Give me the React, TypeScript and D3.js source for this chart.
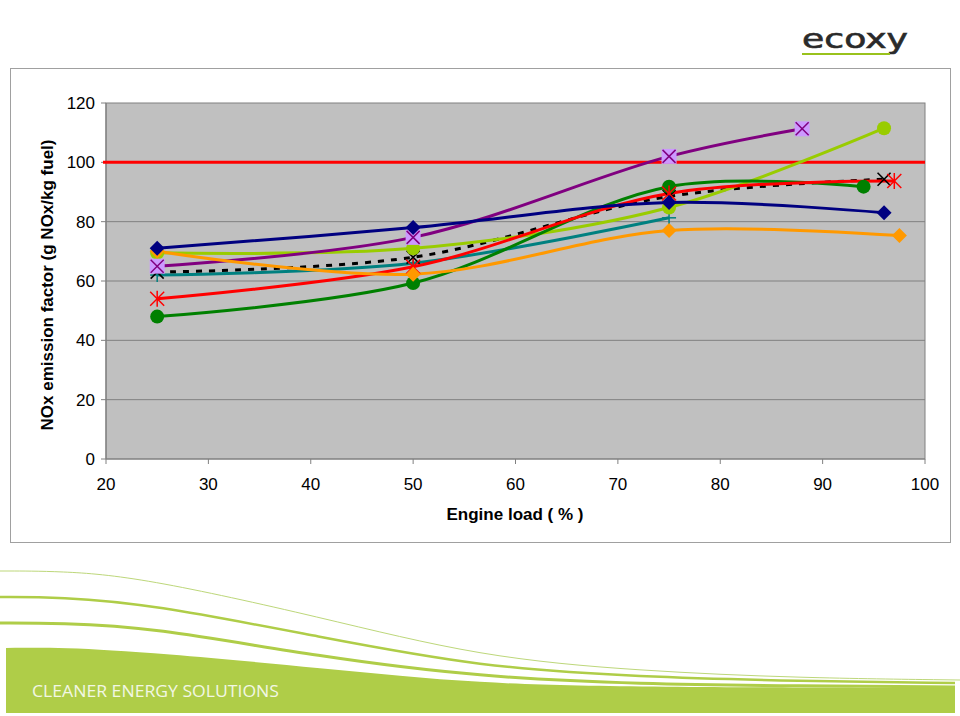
import React from "react";
import * as d3 from "d3";

const xTicks = [20, 30, 40, 50, 60, 70, 80, 90, 100];
const yTicks = [0, 20, 40, 60, 80, 100, 120];

const navyX = [25, 50, 75, 96];
const navyY = [71, 78, 86.5, 83];
const purpleX = [25, 50, 75, 88];
const purpleY = [65, 74.7, 102, 111.3];
const limeX = [25, 50, 75, 96];
const limeY = [69.5, 71, 84.8, 111.5];
const orangeX = [25, 50, 75, 97.5];
const orangeY = [70, 62.3, 77, 75.3];
const redX = [25, 50, 75, 97];
const redY = [54, 64.8, 89.5, 93.7];
const greenX = [25, 50, 75, 94];
const greenY = [48, 59.3, 91.8, 91.8];
const blackX = [25, 50, 75, 96];
const blackY = [63, 68, 88.5, 94.3];
const tealX = [25, 50, 75];
const tealY = [62, 66, 81.3];
const limitValue = 100;

type Series = { xs: number[]; ys: number[]; color: string; marker: string; dash?: string };

const series: Series[] = [
  { xs: tealX, ys: tealY, color: "#008080", marker: "plus" },
  { xs: blackX, ys: blackY, color: "#000000", marker: "x", dash: "6,7" },
  { xs: limeX, ys: limeY, color: "#99CC00", marker: "circle" },
  { xs: greenX, ys: greenY, color: "#008000", marker: "circle" },
  { xs: redX, ys: redY, color: "#FF0000", marker: "star" },
  { xs: purpleX, ys: purpleY, color: "#800080", marker: "squarex" },
  { xs: orangeX, ys: orangeY, color: "#FF9900", marker: "diamond" },
  { xs: navyX, ys: navyY, color: "#000080", marker: "diamond" },
];

// decorative footer swoosh guide points (page coordinates)
const swooshThin: [number, number][] = [[0, 571], [60, 571], [140, 577], [320, 617], [480, 657], [640, 671], [800, 678], [960, 680]];
const swooshMid: [number, number][] = [[0, 597], [60, 597], [150, 604], [320, 637], [480, 667], [640, 677], [800, 681], [955, 683]];
const swooshLow: [number, number][] = [[0, 623], [60, 623], [150, 627], [320, 657], [480, 677], [640, 684], [800, 686], [955, 687]];
const swooshFill: [number, number][] = [[6, 648], [60, 647], [160, 653], [320, 668], [480, 684], [640, 687], [955, 688]];

const x = d3.scaleLinear().domain([20, 100]).range([106, 925]);
const y = d3.scaleLinear().domain([0, 120]).range([459, 103]);

function Marker({ cx, cy, type, color }: { cx: number; cy: number; type: string; color: string }) {
  if (type === "diamond") {
    const s = 7.5;
    return <path d={`M${cx},${cy - s}L${cx + s},${cy}L${cx},${cy + s}L${cx - s},${cy}Z`} fill={color} />;
  }
  if (type === "circle") return <circle cx={cx} cy={cy} r={7} fill={color} />;
  if (type === "plus") {
    const s = 7;
    return (
      <g stroke={color} strokeWidth={1.5}>
        <line x1={cx} y1={cy - s} x2={cx} y2={cy + s} />
        <line x1={cx - s} y1={cy} x2={cx + s} y2={cy} />
      </g>
    );
  }
  if (type === "x") {
    const s = 6.5;
    return (
      <g stroke={color} strokeWidth={1.6}>
        <line x1={cx - s} y1={cy - s} x2={cx + s} y2={cy + s} />
        <line x1={cx - s} y1={cy + s} x2={cx + s} y2={cy - s} />
      </g>
    );
  }
  if (type === "star") {
    const s = 7;
    return (
      <g stroke={color} strokeWidth={1.5}>
        <line x1={cx - s} y1={cy - s} x2={cx + s} y2={cy + s} />
        <line x1={cx - s} y1={cy + s} x2={cx + s} y2={cy - s} />
        <line x1={cx} y1={cy - s - 1} x2={cx} y2={cy + s + 1} />
      </g>
    );
  }
  if (type === "squarex") {
    const s = 7.5;
    return (
      <g>
        <rect x={cx - s} y={cy - s} width={2 * s} height={2 * s} fill="#CC99FF" />
        <g stroke={color} strokeWidth={1.5}>
          <line x1={cx - s + 1} y1={cy - s + 1} x2={cx + s - 1} y2={cy + s - 1} />
          <line x1={cx - s + 1} y1={cy + s - 1} x2={cx + s - 1} y2={cy - s + 1} />
        </g>
      </g>
    );
  }
  return null;
}

export default function App() {
  const line = d3
    .line<[number, number]>()
    .x((d) => x(d[0]))
    .y((d) => y(d[1]))
    .curve(d3.curveCatmullRom.alpha(0.5));

  const deco = d3.line<[number, number]>().curve(d3.curveBasis);
  const fillPath = (deco(swooshFill) || "") + `L955,713L6,713Z`;

  return (
    <svg
      width={960}
      height={716}
      style={{ position: "absolute", left: 0, top: 0, background: "#fff" }}
      fontFamily="'Liberation Sans', Arial, sans-serif"
    >
      {/* logo */}
      <text x={802} y={48} fontSize={27} fill="#2a2a2a" stroke="#2a2a2a" strokeWidth={0.6}
        textLength={106} lengthAdjust="spacingAndGlyphs"
        fontFamily="'DejaVu Sans', sans-serif">ecoxy</text>
      <line x1={802} y1={54} x2={890} y2={54} stroke="#99C21C" strokeWidth={2.2} />

      {/* frame */}
      <rect x={10.5} y={68.5} width={940} height={474} fill="#fff" stroke="#A0A0A0" strokeWidth={1} />

      {/* plot area */}
      <rect x={x(20)} y={y(120)} width={x(100) - x(20)} height={y(0) - y(120)} fill="#C0C0C0" stroke="#808080" strokeWidth={1} />
      {yTicks.filter((t) => t > 0 && t < 120).map((t) => (
        <line key={t} x1={x(20)} x2={x(100)} y1={y(t)} y2={y(t)} stroke="#808080" strokeWidth={1} />
      ))}

      {/* axes */}
      <line x1={x(20)} x2={x(20)} y1={y(0)} y2={y(120)} stroke="#808080" strokeWidth={1.2} />
      <line x1={x(20)} x2={x(100)} y1={y(0)} y2={y(0)} stroke="#808080" strokeWidth={1.2} />
      {yTicks.map((t) => (
        <g key={t}>
          <line x1={x(20) - 5} x2={x(20)} y1={y(t)} y2={y(t)} stroke="#808080" />
          <text x={95} y={y(t) + 6} fontSize={17} textAnchor="end" fill="#000">{t}</text>
        </g>
      ))}
      {xTicks.map((t) => (
        <g key={t}>
          <line x1={x(t)} x2={x(t)} y1={y(0)} y2={y(0) + 5} stroke="#808080" />
          <text x={x(t)} y={490} fontSize={17} textAnchor="middle" fill="#000">{t}</text>
        </g>
      ))}

      {/* limit line */}
      <line x1={x(20) - 3} x2={x(100)} y1={y(limitValue)} y2={y(limitValue)} stroke="#FF0000" strokeWidth={3} />

      {/* series */}
      {series.map((s, i) => (
        <path
          key={i}
          d={line(s.xs.map((v, j) => [v, s.ys[j]] as [number, number])) || ""}
          fill="none"
          stroke={s.color}
          strokeWidth={3}
          strokeDasharray={s.dash}
        />
      ))}
      {series.map((s, i) =>
        s.xs.map((v, j) => (
          <Marker key={`${i}-${j}`} cx={x(v)} cy={y(s.ys[j])} type={s.marker} color={s.color} />
        ))
      )}

      {/* axis titles */}
      <text x={515} y={520} fontSize={17} fontWeight="bold" textAnchor="middle">Engine load ( % )</text>
      <text transform="translate(53,285) rotate(-90)" fontSize={17} fontWeight="bold" textAnchor="middle">
        NOx emission factor (g NOx/kg fuel)
      </text>

      {/* footer */}
      <path d={fillPath} fill="#AFCD48" />
      <path d={deco(swooshThin) || ""} fill="none" stroke="#BDD77A" strokeWidth={1} />
      <path d={deco(swooshMid) || ""} fill="none" stroke="#AFCD48" strokeWidth={2.5} />
      <path d={deco(swooshLow) || ""} fill="none" stroke="#AFCD48" strokeWidth={3} />
      <text x={32} y={697} fontSize={17} fill="#F2F7E4" textLength={247} lengthAdjust="spacingAndGlyphs"
        fontFamily="'Open Sans', sans-serif">CLEANER ENERGY SOLUTIONS</text>
    </svg>
  );
}
